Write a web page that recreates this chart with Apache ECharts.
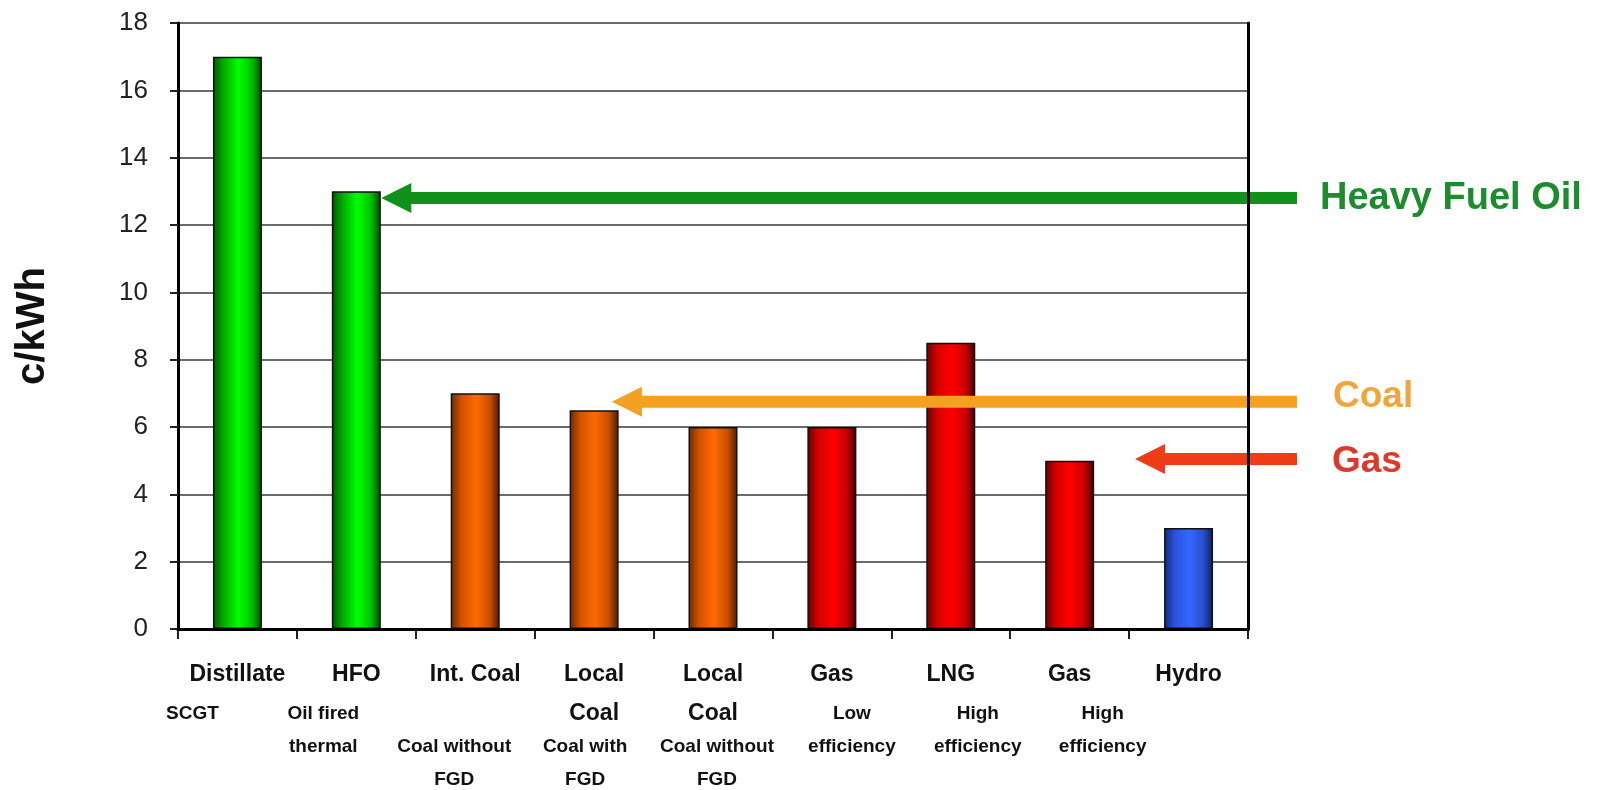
<!DOCTYPE html>
<html>
<head>
<meta charset="utf-8">
<style>
  html, body { margin: 0; padding: 0; background: #fff; }
  #chart { width: 1602px; height: 790px; }
</style>
<script src="https://cdn.jsdelivr.net/npm/echarts@6/dist/echarts.min.js"></script>
</head>
<body>
<div id="chart"></div>
<script>
// Generation cost by technology, cents per kWh
const categories = ['Distillate', 'HFO', 'Int. Coal', 'Local\nCoal', 'Local\nCoal', 'Gas', 'LNG', 'Gas', 'Hydro'];
const subLabels = [
  ['SCGT'],
  ['Oil fired', 'thermal'],
  ['', 'Coal without', 'FGD'],
  ['Coal with', 'FGD'],
  ['Coal without', 'FGD'],
  ['Low', 'efficiency'],
  ['High', 'efficiency'],
  ['High', 'efficiency'],
  []
];
const costs = [17, 13, 7, 6.5, 6, 6, 8.5, 5, 3];
const fuelGroup = ['oil', 'oil', 'coal', 'coal', 'coal', 'gas', 'gas', 'gas', 'hydro'];
const yTicks = [0, 2, 4, 6, 8, 10, 12, 14, 16, 18];

// Fuel-type call-outs: label, category the arrow points at, level in c/kWh
const arrowNames = ['Heavy Fuel Oil', 'Coal', 'Gas'];
const arrowCategory = [1, 3, 7];
const arrowLevel = [12.8, 6.75, 5.05];

// ---- styling ----
const subShift = [-45, -33, -21, -9, 4, 20, 27, 33, 0];   // px, sub-caption horizontal nudge
const arrowTipShift = [0.21, 0.15, 0.55];                 // fraction of a category band
const arrowStyle = [
  { fill: '#11901a', text: '#1e8c2e', dx: 23, dy: 0, size: 38 },
  { fill: '#f4a020', text: '#f0a63a', dx: 36, dy: -5, size: 37 },
  { fill: '#ee3c16', text: '#dc3a2a', dx: 35, dy: 3, size: 37 }
];
const barPalette = {
  oil:   ['#005800', '#00ac00', '#00ff00', '#00c000', '#004400'],
  coal:  ['#6a2a00', '#d45200', '#ff6a00', '#c84e00', '#4a1a00'],
  gas:   ['#640000', '#d40000', '#ff0000', '#c80000', '#440000'],
  hydro: ['#12287a', '#2a52dc', '#3468ff', '#284ecc', '#0e1e5c']
};
const mainFont = "'Liberation Sans', Arial, sans-serif";

function gradient(colors) {
  return new echarts.graphic.LinearGradient(0, 0, 1, 0, [
    { offset: 0, color: colors[0] },
    { offset: 0.22, color: colors[1] },
    { offset: 0.52, color: colors[2] },
    { offset: 0.8, color: colors[3] },
    { offset: 1, color: colors[4] }
  ]);
}

// Rich-text styles for the category captions
const rich = {
  m:  { fontFamily: mainFont, fontWeight: 'bold', fontSize: 23, color: '#111', lineHeight: 45 },
  m2: { fontFamily: mainFont, fontWeight: 'bold', fontSize: 23, color: '#111', lineHeight: 33 }
};
subLabels.forEach(function (lines, i) {
  const d = subShift[i];
  rich['s' + i] = {
    fontFamily: mainFont, fontWeight: 'bold', fontSize: 19, color: '#111', lineHeight: 33,
    padding: d >= 0 ? [0, 0, 0, 2 * d] : [0, -2 * d, 0, 0]
  };
});

function categoryCaption(value, index) {
  const main = value.split('\n');
  const parts = ['{m|' + main[0] + '}'];
  for (let k = 1; k < main.length; k++) parts.push('{m2|' + main[k] + '}');
  subLabels[index].forEach(function (t) {
    parts.push('{s' + index + '|' + (t === '' ? ' ' : t) + '}');
  });
  return parts.join('\n');
}

const chart = echarts.init(document.getElementById('chart'), null, { renderer: 'canvas' });

chart.setOption({
  backgroundColor: '#ffffff',
  animation: false,
  grid: { left: 178, right: 354, top: 23, bottom: 161 },
  xAxis: [
    {
      type: 'category',
      data: categories,
      boundaryGap: true,
      axisLine: { show: true, lineStyle: { color: '#000', width: 3 } },
      axisTick: { show: true, length: 10, lineStyle: { color: '#222', width: 2 } },
      axisLabel: { interval: 0, margin: 23, formatter: categoryCaption, rich: rich },
      splitLine: { show: false }
    },
    {
      type: 'category',
      position: 'top',
      data: categories,
      z: 10,
      axisLine: { show: true, lineStyle: { color: '#000', width: 3 } },
      axisTick: { show: false },
      axisLabel: { show: false },
      splitLine: { show: false }
    }
  ],
  yAxis: [
    {
      type: 'value',
      min: yTicks[0],
      max: yTicks[yTicks.length - 1],
      interval: yTicks[1] - yTicks[0],
      name: 'c/kWh',
      nameLocation: 'middle',
      nameGap: 125,
      nameTextStyle: { fontFamily: mainFont, fontWeight: 'bold', fontSize: 40, color: '#111' },
      axisLine: { show: true, lineStyle: { color: '#000', width: 3 } },
      axisTick: { show: true, length: 8, lineStyle: { color: '#222', width: 2 } },
      axisLabel: { margin: 30, fontFamily: mainFont, fontSize: 26, color: '#222' },
      splitLine: { show: true, lineStyle: { color: '#3a3a3a', width: 1.6 } }
    },
    {
      type: 'value',
      position: 'right',
      min: yTicks[0],
      max: yTicks[yTicks.length - 1],
      interval: yTicks[1] - yTicks[0],
      z: 10,
      axisLine: { show: true, lineStyle: { color: '#000', width: 3 } },
      axisTick: { show: false },
      axisLabel: { show: false },
      splitLine: { show: false }
    }
  ],
  series: [
    {
      type: 'bar',
      xAxisIndex: 0,
      yAxisIndex: 0,
      barWidth: 49,
      z: 2,
      data: costs.map(function (v, i) {
        return {
          value: v,
          itemStyle: {
            color: gradient(barPalette[fuelGroup[i]]),
            borderColor: '#111',
            borderWidth: 1.5
          }
        };
      })
    },
    {
      type: 'custom',
      xAxisIndex: 0,
      yAxisIndex: 0,
      clip: false,
      z: 4,
      data: arrowCategory.map(function (c, i) { return [c, arrowLevel[i]]; }),
      renderItem: function (params, api) {
        const i = params.dataIndex;
        const st = arrowStyle[i];
        const p = api.coord([api.value(0), api.value(1)]);
        const band = api.size([1, 0])[0];
        const tipX = p[0] + band * arrowTipShift[i];
        const y = p[1];
        const endX = params.coordSys.x + params.coordSys.width + 49;
        const headLen = 30, headHalf = 15, thick = 12;
        return {
          type: 'group',
          children: [
            {
              type: 'rect',
              shape: { x: tipX + headLen - 2, y: y - thick / 2, width: endX - tipX - headLen + 2, height: thick },
              style: { fill: st.fill }
            },
            {
              type: 'polygon',
              shape: { points: [[tipX, y], [tipX + headLen, y - headHalf], [tipX + headLen, y + headHalf]] },
              style: { fill: st.fill }
            },
            {
              type: 'text',
              x: endX + st.dx,
              y: y + st.dy,
              style: {
                text: arrowNames[i],
                fill: st.text,
                fontFamily: mainFont,
                fontWeight: 'bold',
                fontSize: st.size,
                verticalAlign: 'middle',
                align: 'left'
              }
            }
          ]
        };
      }
    }
  ]
});
</script>
</body>
</html>
